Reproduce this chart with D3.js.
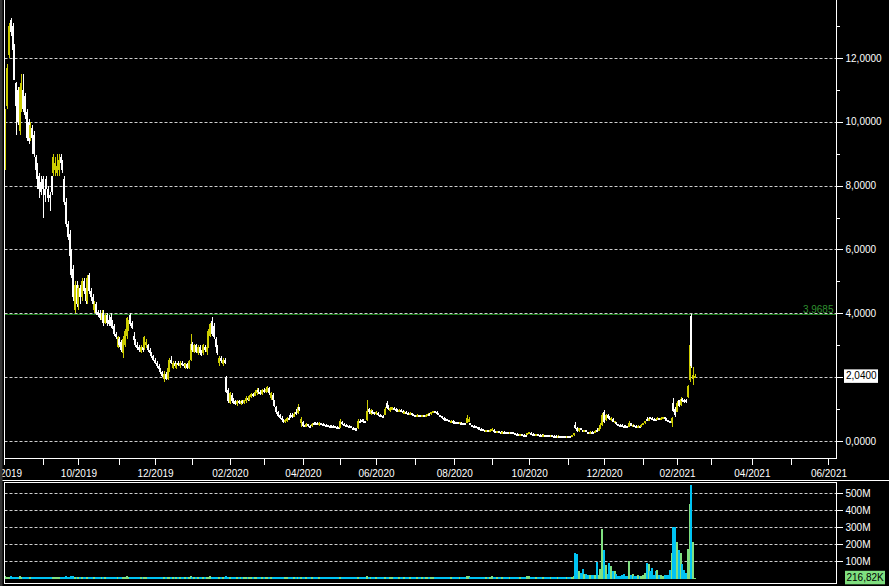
<!DOCTYPE html>
<html><head><meta charset="utf-8">
<script src="https://cdn.jsdelivr.net/npm/d3@7"></script>
<style>body{margin:0;background:#000;}svg{display:block;}</style>
</head><body>
<svg id="c" width="889" height="586"></svg>
<script>
// ---------- DATA ----------
const calendarStart = "2019-08-01";
const calendarEnd = "2021-07-30";
const firstCandleDate = "2019-08-02";
const holidays = ["2019-09-02","2019-11-28","2019-12-25","2020-01-01","2020-01-20","2020-02-17","2020-04-10","2020-05-25","2020-07-03","2020-09-07","2020-11-26","2020-12-25","2021-01-01","2021-01-18","2021-02-15"];
// daily candles: [open, high, low, close]
const ohlc = [
[8.6,10.4,8.5,10.3],[10.5,11.8,10.4,11.7],[12.1,13.1,12.0,13.0],[13.2,13.25,12.7,12.8],[13.0,13.1,12.2,12.25],[12.4,12.45,11.3,11.3],[11.2,11.25,9.6,10.5],[11.0,11.1,9.9,10.0],[9.7,11.2,9.6,11.1],[10.4,11.5,10.3,11.0],
[11.0,11.5,10.3,10.4],[10.8,10.9,10.1,10.2],[10.3,10.4,9.4,9.5],[10.0,10.1,9.3,9.4],[9.5,10.0,9.4,9.9],[9.8,9.9,9.0,9.5],[9.6,9.7,8.9,9.0],[8.9,8.95,8.4,8.5],[8.6,8.7,7.9,8.2],[8.3,8.4,7.6,7.9],
[8.1,8.3,7.7,7.8],[8.2,8.3,7.0,7.9],[7.9,8.0,7.5,7.7],[8.2,8.3,7.9,8.0],[7.9,8.0,7.5,7.6],[7.7,7.8,7.2,7.6],[8.3,8.3,7.7,7.8],[8.4,9.0,8.3,8.9],[8.5,8.9,8.3,8.7],[8.4,9.0,8.3,8.6],
[8.5,9.0,8.3,8.8],[8.9,9.0,8.6,8.7],[8.7,8.8,8.4,8.5],[8.2,8.3,7.4,7.5],[7.5,7.6,6.7,6.8],[6.8,6.9,6.3,6.4],[6.5,6.6,5.7,5.8],[5.9,6.0,5.1,5.2],[5.4,5.5,4.4,4.5],[4.1,5.0,4.0,4.9],
[4.9,5.0,4.2,4.3],[4.3,4.9,4.1,4.8],[4.8,4.9,4.3,4.5],[4.5,5.1,4.4,5.0],[5.0,5.1,4.6,4.7],[4.8,4.9,4.3,4.4],[4.4,5.2,4.3,5.1],[5.2,5.25,4.6,4.7],[4.7,4.8,4.4,4.5],[4.5,4.6,4.2,4.3],
[4.1,4.4,4.0,4.3],[4.3,4.35,3.95,4.0],[4.05,4.1,3.9,3.95],[4.0,4.1,3.8,3.85],[3.8,4.1,3.75,4.0],[4.0,4.1,3.6,3.7],[3.7,4.0,3.65,3.95],[3.95,4.0,3.6,3.7],[3.8,3.95,3.6,3.65],[3.9,4.0,3.55,3.6],
[3.7,3.8,3.5,3.55],[3.6,3.65,3.3,3.35],[3.35,3.4,3.2,3.25],[2.95,3.3,2.9,3.25],[3.2,3.25,2.95,3.0],[3.1,3.15,2.8,2.85],[2.75,3.3,2.6,3.2],[3.0,3.5,2.95,3.45],[3.3,3.9,3.2,3.85],[3.5,3.8,3.45,3.7],
[3.95,4.0,3.6,3.65],[3.7,3.75,3.5,3.55],[3.3,3.4,3.1,3.15],[3.15,3.2,2.95,3.0],[3.0,3.1,2.85,2.9],[2.95,3.0,2.8,2.85],[2.8,3.0,2.75,2.95],[2.95,3.0,2.8,2.85],[2.9,3.3,2.85,3.25],[3.0,3.2,2.9,3.1],
[3.0,3.05,2.8,2.85],[2.85,2.9,2.7,2.75],[2.75,2.8,2.6,2.65],[2.65,2.7,2.5,2.55],[2.55,2.6,2.4,2.45],[2.45,2.5,2.3,2.35],[2.35,2.4,2.2,2.25],[2.25,2.3,2.1,2.15],[2.15,2.2,2.0,2.05],[1.95,2.2,1.85,2.1],
[2.1,2.15,1.9,1.95],[1.95,2.35,1.9,2.3],[2.2,2.6,2.15,2.55],[2.55,2.65,2.4,2.45],[2.3,2.5,2.25,2.45],[2.45,2.5,2.3,2.35],[2.3,2.45,2.25,2.4],[2.45,2.5,2.35,2.4],[2.35,2.5,2.3,2.45],[2.45,2.5,2.35,2.4],
[2.4,2.45,2.3,2.35],[2.35,2.45,2.25,2.4],[2.4,2.45,2.25,2.3],[2.3,2.55,2.25,2.5],[2.55,3.35,2.5,3.05],[3.05,3.1,2.8,2.85],[2.8,3.05,2.75,3.0],[3.0,3.05,2.75,2.8],[2.75,3.0,2.7,2.95],[2.95,3.0,2.7,2.75],
[2.8,2.85,2.65,2.7],[2.75,3.05,2.7,3.0],[2.95,3.0,2.8,2.85],[2.8,3.0,2.7,2.95],[2.95,3.5,2.9,3.45],[3.3,3.7,3.25,3.65],[3.75,3.9,3.3,3.35],[3.6,3.7,3.2,3.25],[3.2,3.25,2.9,2.95],[2.95,3.0,2.7,2.75],
[2.45,2.65,2.35,2.6],[2.6,2.65,2.45,2.5],[2.4,2.6,2.35,2.55],[2.55,2.6,2.4,2.45],[2.0,2.05,1.5,1.55],[1.6,1.65,1.2,1.25],[1.2,1.55,1.15,1.5],[1.45,1.5,1.2,1.25],[1.3,1.35,1.15,1.2],[1.25,1.3,1.12,1.15],
[1.15,1.3,1.1,1.25],[1.25,1.3,1.15,1.2],[1.15,1.3,1.12,1.25],[1.25,1.3,1.15,1.2],[1.18,1.3,1.15,1.28],[1.25,1.4,1.2,1.35],[1.35,1.4,1.25,1.3],[1.3,1.45,1.25,1.42],[1.38,1.5,1.35,1.48],[1.48,1.5,1.38,1.42],
[1.42,1.6,1.4,1.55],[1.5,1.65,1.45,1.6],[1.6,1.65,1.48,1.52],[1.55,1.6,1.45,1.5],[1.48,1.62,1.45,1.6],[1.6,1.65,1.5,1.55],[1.52,1.68,1.5,1.62],[1.58,1.72,1.55,1.68],[1.65,1.7,1.45,1.5],[1.35,1.55,1.3,1.5],
[1.45,1.5,1.25,1.3],[1.25,1.3,1.05,1.1],[1.05,1.1,0.85,0.9],[0.9,0.95,0.75,0.78],[0.8,0.85,0.7,0.72],[0.72,0.78,0.6,0.65],[0.66,0.7,0.56,0.6],[0.58,0.7,0.56,0.66],[0.62,0.75,0.6,0.72],[0.72,0.78,0.65,0.7],
[0.8,0.88,0.72,0.75],[0.82,0.88,0.72,0.76],[0.76,0.9,0.74,0.86],[0.92,1.0,0.82,0.87],[0.88,1.16,0.86,1.05],[1.05,1.08,0.95,0.98],[0.55,0.75,0.45,0.7],[0.6,0.62,0.45,0.48],[0.5,0.52,0.44,0.46],[0.45,0.55,0.44,0.52],
[0.52,0.53,0.45,0.47],[0.48,0.5,0.44,0.46],[0.46,0.55,0.45,0.53],[0.55,0.6,0.5,0.54],[0.56,0.6,0.52,0.55],[0.56,0.58,0.5,0.52],[0.5,0.6,0.48,0.56],[0.56,0.57,0.5,0.52],[0.53,0.55,0.49,0.5],[0.52,0.53,0.47,0.49],
[0.5,0.52,0.46,0.48],[0.49,0.5,0.45,0.47],[0.48,0.5,0.45,0.47],[0.48,0.49,0.44,0.46],[0.47,0.49,0.43,0.45],[0.46,0.47,0.42,0.44],[0.45,0.46,0.41,0.43],[0.44,0.45,0.38,0.4],[0.42,0.7,0.4,0.62],[0.6,0.62,0.5,0.52],
[0.53,0.56,0.48,0.5],[0.5,0.52,0.46,0.48],[0.49,0.51,0.45,0.47],[0.48,0.5,0.44,0.46],[0.46,0.47,0.4,0.42],[0.42,0.43,0.37,0.39],[0.4,0.42,0.36,0.38],[0.39,0.4,0.35,0.37],[0.4,0.68,0.38,0.62],[0.64,0.7,0.58,0.6],
[0.66,0.7,0.58,0.62],[0.65,0.68,0.57,0.59],[0.62,0.64,0.56,0.58],[0.66,1.28,0.64,0.95],[1.0,1.02,0.86,0.9],[0.85,1.0,0.82,0.97],[0.95,0.98,0.85,0.88],[0.9,0.92,0.82,0.86],[0.84,0.95,0.82,0.9],[0.88,0.9,0.78,0.8],
[0.82,0.84,0.75,0.77],[0.8,0.82,0.74,0.76],[0.78,0.8,0.72,0.75],[0.82,1.05,0.8,1.0],[1.2,1.25,1.0,1.03],[1.08,1.12,0.98,1.0],[0.95,1.05,0.92,1.02],[0.98,1.08,0.96,1.05],[1.04,1.06,0.96,0.99],[1.0,1.02,0.94,0.97],
[0.98,1.0,0.92,0.95],[0.93,1.0,0.91,0.98],[0.97,0.99,0.9,0.93],[0.94,0.96,0.88,0.9],[0.88,0.94,0.87,0.92],[0.92,0.93,0.85,0.87],[0.88,0.9,0.83,0.85],[0.83,0.9,0.82,0.88],[0.88,0.89,0.81,0.83],[0.84,0.86,0.8,0.82],
[0.82,0.83,0.78,0.8],[0.78,0.84,0.77,0.82],[0.82,0.83,0.77,0.79],[0.8,0.82,0.76,0.78],[0.77,0.83,0.76,0.81],[0.81,0.82,0.77,0.79],[0.79,0.85,0.78,0.83],[0.82,0.88,0.8,0.86],[0.86,0.88,0.82,0.84],[0.84,0.92,0.83,0.9],
[0.88,0.95,0.87,0.93],[0.93,0.95,0.88,0.9],[0.91,0.93,0.86,0.88],[0.88,0.89,0.8,0.82],[0.82,0.83,0.75,0.77],[0.77,0.78,0.7,0.72],[0.73,0.74,0.67,0.69],[0.7,0.71,0.64,0.66],[0.68,0.7,0.63,0.65],[0.66,0.67,0.6,0.62],
[0.61,0.66,0.6,0.64],[0.64,0.65,0.58,0.6],[0.61,0.62,0.57,0.59],[0.6,0.61,0.55,0.57],[0.58,0.59,0.54,0.56],[0.55,0.6,0.54,0.58],[0.57,0.58,0.53,0.55],[0.56,0.57,0.52,0.54],[0.55,0.56,0.51,0.53],[0.56,0.8,0.55,0.72],
[0.6,0.75,0.58,0.68],[0.55,0.56,0.49,0.5],[0.5,0.51,0.45,0.47],[0.48,0.49,0.44,0.45],[0.46,0.47,0.42,0.43],[0.44,0.45,0.4,0.41],[0.42,0.43,0.37,0.38],[0.39,0.4,0.35,0.36],[0.37,0.38,0.33,0.34],[0.35,0.36,0.31,0.32],
[0.31,0.36,0.3,0.34],[0.34,0.35,0.3,0.31],[0.31,0.38,0.3,0.36],[0.34,0.4,0.33,0.38],[0.36,0.37,0.3,0.31],[0.31,0.32,0.28,0.29],[0.29,0.31,0.28,0.3],[0.3,0.31,0.27,0.29],[0.29,0.3,0.27,0.28],[0.28,0.3,0.27,0.29],
[0.29,0.3,0.27,0.28],[0.28,0.29,0.26,0.27],[0.28,0.29,0.26,0.27],[0.27,0.29,0.26,0.28],[0.28,0.29,0.26,0.27],[0.27,0.28,0.24,0.25],[0.25,0.26,0.22,0.23],[0.23,0.24,0.21,0.22],[0.22,0.23,0.2,0.21],[0.21,0.22,0.2,0.22],
[0.21,0.22,0.19,0.2],[0.2,0.21,0.18,0.19],[0.2,0.21,0.18,0.19],[0.19,0.26,0.18,0.24],[0.22,0.29,0.21,0.27],[0.26,0.27,0.21,0.22],[0.23,0.24,0.2,0.21],[0.22,0.23,0.19,0.2],[0.2,0.22,0.19,0.21],[0.21,0.22,0.19,0.2],
[0.2,0.21,0.18,0.19],[0.2,0.21,0.18,0.19],[0.19,0.21,0.18,0.2],[0.2,0.2,0.17,0.18],[0.19,0.2,0.17,0.18],[0.18,0.19,0.16,0.17],[0.17,0.19,0.16,0.18],[0.18,0.19,0.16,0.17],[0.17,0.18,0.15,0.16],[0.17,0.18,0.15,0.16],
[0.16,0.18,0.15,0.17],[0.17,0.17,0.14,0.15],[0.16,0.17,0.14,0.15],[0.16,0.16,0.13,0.14],[0.15,0.16,0.13,0.14],[0.14,0.16,0.13,0.15],[0.15,0.16,0.13,0.14],[0.15,0.16,0.13,0.14],[0.14,0.2,0.13,0.19],[0.18,0.25,0.17,0.24],
[0.5,0.6,0.38,0.42],[0.42,0.45,0.28,0.32],[0.3,0.42,0.28,0.4],[0.4,0.41,0.33,0.35],[0.35,0.36,0.29,0.3],[0.3,0.34,0.29,0.33],[0.33,0.34,0.27,0.28],[0.28,0.29,0.25,0.26],[0.26,0.3,0.25,0.29],[0.29,0.3,0.25,0.26],
[0.27,0.28,0.24,0.25],[0.25,0.33,0.24,0.32],[0.36,0.42,0.3,0.32],[0.32,0.42,0.31,0.4],[0.4,0.55,0.39,0.5],[0.5,0.88,0.48,0.82],[0.9,0.97,0.55,0.6],[0.65,0.85,0.62,0.8],[0.82,0.84,0.7,0.72],[0.76,0.78,0.66,0.68],
[0.66,0.75,0.64,0.72],[0.7,0.71,0.58,0.6],[0.58,0.64,0.55,0.62],[0.6,0.61,0.5,0.52],[0.52,0.54,0.47,0.49],[0.5,0.52,0.46,0.48],[0.5,0.52,0.46,0.47],[0.48,0.5,0.45,0.46],[0.48,0.49,0.44,0.45],[0.46,0.47,0.43,0.44],
[0.44,0.62,0.43,0.56],[0.55,0.56,0.47,0.48],[0.47,0.52,0.46,0.5],[0.5,0.51,0.46,0.47],[0.48,0.49,0.45,0.46],[0.46,0.49,0.45,0.48],[0.48,0.49,0.45,0.46],[0.46,0.52,0.45,0.5],[0.5,0.56,0.49,0.55],[0.55,0.64,0.54,0.62],
[0.7,0.74,0.62,0.64],[0.64,0.76,0.63,0.72],[0.74,0.76,0.68,0.7],[0.72,0.74,0.67,0.69],[0.7,0.72,0.66,0.68],[0.7,0.72,0.66,0.67],[0.66,0.74,0.65,0.72],[0.72,0.73,0.66,0.68],[0.67,0.75,0.66,0.72],[0.7,0.76,0.69,0.74],
[0.74,0.75,0.68,0.7],[0.7,0.71,0.64,0.66],[0.66,0.67,0.6,0.62],[0.63,0.64,0.56,0.58],[0.56,0.75,0.44,0.72],[1.2,1.36,0.9,0.95],[1.0,1.05,0.75,0.8],[0.92,1.24,0.9,1.2],[1.27,1.3,1.08,1.1],[1.12,1.38,1.1,1.33],
[1.33,1.35,1.22,1.26],[1.3,1.33,1.2,1.22],[1.3,1.32,1.2,1.26],[1.38,1.76,1.35,1.72],[1.9,3.05,1.85,3.0],[3.92,3.9685,2.3,2.35],[1.95,2.32,1.75,2.08],[2.0,2.1,1.98,2.04]
];
// daily volume in millions of shares
const volume = [
12,10,9,11,8,9,10,8,11,9,8,9,10,7,9,8,9,10,8,9,
8,10,9,8,7,9,8,10,9,8,7,8,9,10,11,9,10,12,11,10,
9,10,8,9,8,7,10,8,7,8,9,8,7,8,9,7,8,7,8,7,
7,8,7,9,7,8,9,10,11,8,9,8,7,8,7,7,8,7,9,8,
7,7,8,7,8,7,7,8,7,9,7,8,9,8,7,8,7,8,7,8,
7,8,7,8,12,9,8,7,8,7,7,8,7,8,10,11,9,8,7,8,
8,7,8,7,12,10,9,8,7,8,7,8,7,8,7,8,7,8,9,7,
8,9,7,8,7,8,7,9,8,7,8,9,10,9,8,7,8,7,8,7,
8,7,8,9,10,8,9,8,7,8,7,7,8,7,8,7,8,7,7,8,
7,7,8,7,7,8,7,8,10,8,7,8,7,7,8,7,7,7,10,8,
8,7,7,12,9,8,9,7,8,7,7,7,7,9,10,8,7,8,7,7,
7,8,7,7,8,7,7,8,7,7,7,8,7,7,8,7,8,8,7,8,
8,7,7,7,8,7,7,7,7,7,8,7,7,7,7,8,7,7,7,14,
12,9,8,8,7,8,7,8,7,7,8,7,10,12,8,7,8,7,7,8,
7,8,7,8,7,8,7,8,7,8,7,8,7,12,14,9,8,7,8,8,
8,7,8,7,8,7,8,7,8,7,8,7,8,7,8,7,8,7,
8,12,150,145,45,30,55,25,25,20,
18,20,20,20,98,20,55,288,166,78,
25,92,72,40,45,28,12,14,20,28,
12,12,100,20,25,12,12,20,12,12,
20,30,90,85,40,60,20,45,50,20,
18,15,20,18,20,50,150,300,300,215,
166,147,84,50,30,170,437,543,215,0.21682
];
const priceTicks = [0,2,4,6,8,10,12];
const priceMinorTicks = [1,3,5,7,9,11,13];
const volumeTicks = [100,200,300,400,500];
const refLevel = 3.9685;

// ---------- STYLE ----------
const UP = "#cccc00", DOWN = "#ffffff";
const VUP = "#80e080", VDOWN = "#00c3f3";
const GRID = "#cfcfcf";
const FONT = "'Liberation Sans', Arial, sans-serif";

// ---------- CALENDAR ----------
const fmt = d3.utcFormat("%Y-%m-%d");
const hol = new Set(holidays);
const days = d3.utcDays(new Date(calendarStart + "T00:00:00Z"), new Date(calendarEnd + "T00:00:00Z"))
  .filter(d => { const w = d.getUTCDay(); return w !== 0 && w !== 6 && !hol.has(fmt(d)); });
const startIdx = days.findIndex(d => fmt(d) === firstCandleDate);
const data = ohlc.map((r, k) => ({ i: startIdx + k, o: r[0], h: r[1], l: r[2], c: r[3], v: volume[k] }));
const monthStarts = [];
days.forEach((d, j) => { if (j === 0 || d.getUTCMonth() !== days[j - 1].getUTCMonth()) monthStarts.push(j); });

// ---------- SCALES ----------
const L = 4.5, R = 836.5, B = 458.5;
const x = d3.scaleLinear().domain([0.5, 467.5]).range([L, R]);
const y = d3.scaleLinear().domain([0, 13]).range([441, 26.0]);
const yv = d3.scaleLinear().domain([0, 500]).range([578.3, 492.8]);

const svg = d3.select("#c");
svg.append("rect").attr("width", 889).attr("height", 586).attr("fill", "#000");
const defs = svg.append("defs");
defs.append("clipPath").attr("id", "mainClip").append("rect").attr("x", L + 0.5).attr("y", 0).attr("width", R - L - 1).attr("height", B);
defs.append("clipPath").attr("id", "volClip").append("rect").attr("x", L + 0.5).attr("y", 483).attr("width", R - L - 1).attr("height", 100);

// grid
const g = svg.append("g");
g.selectAll("line.pg").data(priceTicks).join("line")
  .attr("x1", L).attr("x2", R).attr("y1", d => Math.round(y(d)) + 0.5).attr("y2", d => Math.round(y(d)) + 0.5)
  .attr("stroke", GRID).attr("stroke-dasharray", "3,2");
g.selectAll("line.vg").data(volumeTicks).join("line")
  .attr("x1", L).attr("x2", R).attr("y1", d => Math.round(yv(d)) + 0.5).attr("y2", d => Math.round(yv(d)) + 0.5)
  .attr("stroke", GRID).attr("stroke-dasharray", "3,2");

// reference line
const ry = Math.round(y(refLevel)) + 0.5;
svg.append("line").attr("x1", L).attr("x2", R).attr("y1", ry).attr("y2", ry).attr("stroke", "#1f7f1f");
svg.append("text").attr("x", R - 3).attr("y", ry - 2).attr("text-anchor", "end")
  .attr("font-family", FONT).attr("font-size", 10).attr("fill", "#2f8f2f")
  .text(d3.format(".4f")(refLevel).replace(".", ","));

// candles
const cg = svg.append("g").attr("clip-path", "url(#mainClip)").attr("shape-rendering", "crispEdges");
const cx = d => Math.round(x(d.i));
cg.selectAll("rect.w").data(data).join("rect")
  .attr("x", d => cx(d)).attr("width", 1)
  .attr("y", d => y(d.h)).attr("height", d => Math.max(1, y(d.l) - y(d.h)))
  .attr("fill", d => d.c >= d.o ? UP : DOWN);
cg.selectAll("rect.b").data(data).join("rect")
  .attr("x", d => cx(d) - 1).attr("width", 2)
  .attr("y", d => y(Math.max(d.o, d.c))).attr("height", d => Math.max(2, Math.abs(y(d.o) - y(d.c))))
  .attr("fill", d => d.c >= d.o ? UP : DOWN);

// volume
const vg = svg.append("g").attr("clip-path", "url(#volClip)").attr("shape-rendering", "crispEdges");
vg.selectAll("rect").data(data).join("rect")
  .attr("x", d => cx(d) - 1).attr("width", 2)
  .attr("y", d => Math.min(yv(d.v), yv(0))).attr("height", d => Math.max(1, yv(0) + 1 - yv(d.v)))
  .attr("fill", d => d.c >= d.o ? VUP : VDOWN);

// frames
const fr = svg.append("g").attr("stroke", "#fff").attr("fill", "none").attr("shape-rendering", "crispEdges");
fr.append("line").attr("x1", L).attr("x2", L).attr("y1", 0).attr("y2", B);
fr.append("line").attr("x1", R).attr("x2", R).attr("y1", 0).attr("y2", B);
fr.append("line").attr("x1", L).attr("x2", R).attr("y1", B).attr("y2", B);
fr.append("line").attr("x1", 0).attr("x2", 889).attr("y1", 480.5).attr("y2", 480.5);
fr.append("rect").attr("x", L).attr("y", 482.5).attr("width", R - L).attr("height", 101);

// right price axis
const ra = svg.append("g").attr("transform", `translate(${R},0)`)
  .call(d3.axisRight(y).tickValues(priceTicks).tickSize(6).tickPadding(3).tickSizeOuter(0)
    .tickFormat(d => d3.format(".4f")(d).replace(".", ",")));
ra.select(".domain").remove();
const ra2 = svg.append("g").attr("transform", `translate(${R},0)`)
  .call(d3.axisRight(y).tickValues(priceMinorTicks).tickSize(3).tickFormat(""));
ra2.select(".domain").remove();

// bottom time axis
const ba = svg.append("g").attr("transform", `translate(0,${B})`)
  .call(d3.axisBottom(x).tickValues(monthStarts.filter(j => x(j) <= R)).tickSize(6).tickPadding(5).tickSizeOuter(0)
    .tickFormat(j => { const d = days[j]; return (d.getUTCMonth() + 1) % 2 === 0 ? d3.utcFormat("%m/%Y")(d) : ""; }));
ba.select(".domain").remove();

// volume axis
const va = svg.append("g").attr("transform", `translate(${R},0)`)
  .call(d3.axisRight(yv).tickValues(volumeTicks).tickSize(6).tickPadding(3).tickSizeOuter(0).tickFormat(d => d + "M"));
va.select(".domain").remove();

svg.selectAll(".tick line").attr("stroke", "#fff").attr("shape-rendering", "crispEdges");
svg.selectAll(".tick text").attr("fill", "#fff").attr("font-family", FONT).attr("font-size", 10);

// last price box
const last = data[data.length - 1];
const ly = y(last.c);
svg.append("rect").attr("x", R + 7.5).attr("y", ly - 6.5).attr("width", 34).attr("height", 13.5).attr("fill", "#fff");
svg.append("text").attr("x", R + 9.5).attr("y", ly + 3.5).attr("font-family", FONT).attr("font-size", 10).attr("fill", "#000")
  .text(d3.format(".4f")(last.c).replace(".", ","));

// last volume box
const vl = yv(0);
svg.append("rect").attr("x", R + 8.5).attr("y", vl - 7.5).attr("width", 40).attr("height", 13.5).attr("fill", VUP);
svg.append("text").attr("x", R + 10).attr("y", vl + 3).attr("font-family", FONT).attr("font-size", 10).attr("fill", "#000")
  .text(d3.format(".2f")(last.v * 1000).replace(".", ",") + "K");

// left edge strip
svg.append("rect").attr("x", 0).attr("y", 0).attr("width", 2.5).attr("height", 586).attr("fill", "#333");
</script>
</body></html>
